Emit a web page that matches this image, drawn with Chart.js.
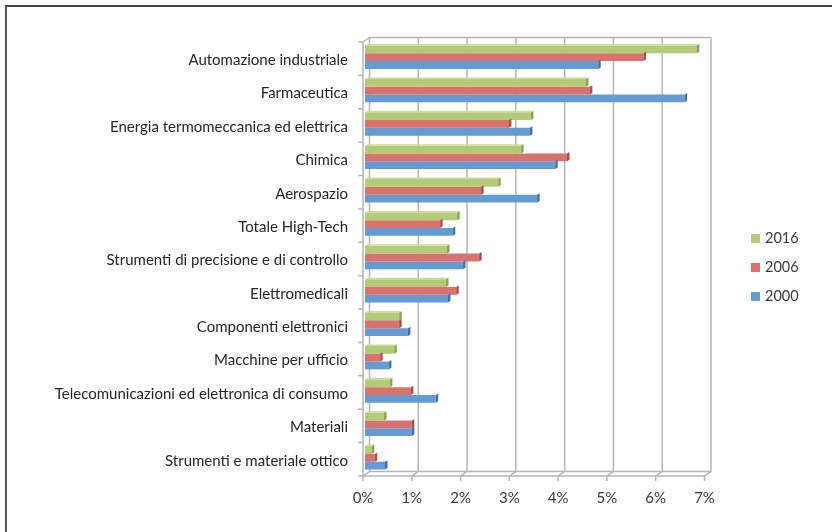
<!DOCTYPE html>
<html>
<head>
<meta charset="utf-8">
<script src="https://cdn.jsdelivr.net/npm/chart.js@4"></script>
<style>
  html, body { margin: 0; background: #fff; overflow: hidden; }
  #wrap { position: relative; width: 832px; height: 532px; }
  /* the screenshot only shows the top and left edge of the chart frame */
  #frame { position: absolute; left: 5px; top: 5px; right: 0; bottom: 0; border-top: 2px solid #444; border-left: 2px solid #555; }
  canvas { position: absolute; left: 0; top: 0; }
</style>
</head>
<body>
<div id="wrap">
  <div id="frame"></div>
  <canvas id="chart" width="832" height="532"></canvas>
</div>
<script>
const categories = [
  'Automazione industriale', 'Farmaceutica', 'Energia termomeccanica ed elettrica',
  'Chimica', 'Aerospazio', 'Totale High-Tech', 'Strumenti di precisione e di controllo',
  'Elettromedicali', 'Componenti elettronici', 'Macchine per ufficio',
  'Telecomunicazioni ed elettronica di consumo', 'Materiali', 'Strumenti e materiale ottico'
];
const values2016 = [6.80, 4.53, 3.40, 3.20, 2.73, 1.89, 1.68, 1.66, 0.70, 0.60, 0.51, 0.39, 0.14];
const values2006 = [5.71, 4.61, 2.95, 4.14, 2.38, 1.54, 2.34, 1.87, 0.70, 0.31, 0.94, 0.96, 0.20];
const values2000 = [4.78, 6.55, 3.38, 3.90, 3.53, 1.80, 2.01, 1.70, 0.88, 0.49, 1.45, 0.96, 0.41];

// 3d look: how far the back wall sits from the front plane
const DEPTH_X = 6.5, DEPTH_Y = -4.5;
// bars stand a bit behind the front plane
const BAR_DX = 2, BAR_DY = -1.5;
const GRID = '#b5b5b5';

const faces = {
  '2016': { front: '#b3cb78', top: '#c9dc9c', side: '#8aa353' },
  '2006': { front: '#d9716c', top: '#e59a96', side: '#a94f4b' },
  '2000': { front: '#659ad2', top: '#93b8e0', side: '#44719f' }
};

// walls, floor and ticks of the fake 3d box, below the bars
const boxPlugin = {
  id: 'box',
  beforeDatasetsDraw(chart) {
    const { ctx, scales: { x }, chartArea: a } = chart;
    ctx.save();
    ctx.strokeStyle = GRID;
    ctx.lineWidth = 1.5;
    ctx.beginPath();
    x.ticks.forEach((t, i) => {
      const px = x.getPixelForTick(i);
      ctx.moveTo(px, a.bottom + 5);
      ctx.lineTo(px, a.bottom);
      ctx.lineTo(px + DEPTH_X, a.bottom + DEPTH_Y);
      ctx.lineTo(px + DEPTH_X, a.top + DEPTH_Y);
    });
    // floor front edge, back edges, left edge
    ctx.moveTo(a.left, a.bottom); ctx.lineTo(a.right, a.bottom);
    ctx.moveTo(a.left + DEPTH_X, a.bottom + DEPTH_Y); ctx.lineTo(a.right + DEPTH_X, a.bottom + DEPTH_Y);
    ctx.moveTo(a.left + DEPTH_X, a.top + DEPTH_Y); ctx.lineTo(a.right + DEPTH_X, a.top + DEPTH_Y);
    ctx.moveTo(a.left, a.bottom); ctx.lineTo(a.left, a.top);
    ctx.lineTo(a.left + DEPTH_X, a.top + DEPTH_Y);
    // category ticks on the front left edge
    for (let i = 0; i <= categories.length; i++) {
      const py = a.top + (a.bottom - a.top) * i / categories.length;
      ctx.moveTo(a.left - 5, py); ctx.lineTo(a.left, py);
    }
    ctx.stroke();
    ctx.restore();

    // bars get shifted back, undone in afterDatasetsDraw
    ctx.save();
    ctx.translate(BAR_DX, BAR_DY);
  },
  afterDatasetsDraw(chart) {
    const { ctx } = chart;
    chart.data.datasets.forEach((ds, di) => {
      const f = faces[ds.label];
      chart.getDatasetMeta(di).data.forEach(bar => {
        const h = bar.height / 2;
        ctx.fillStyle = f.side;
        ctx.beginPath();
        ctx.moveTo(bar.x, bar.y - h);
        ctx.lineTo(bar.x + 2.5, bar.y - h - 1.5);
        ctx.lineTo(bar.x + 2.5, bar.y + h - 1.5);
        ctx.lineTo(bar.x, bar.y + h);
        ctx.closePath();
        ctx.fill();
        if (di === 0) {
          ctx.fillStyle = f.top;
          ctx.beginPath();
          ctx.moveTo(bar.base, bar.y - h);
          ctx.lineTo(bar.base + 2.5, bar.y - h - 1.5);
          ctx.lineTo(bar.x + 2.5, bar.y - h - 1.5);
          ctx.lineTo(bar.x, bar.y - h);
          ctx.closePath();
          ctx.fill();
        }
      });
    });
    ctx.restore();
  }
};

// legend on the right, top entry first like the series order
const legendPlugin = {
  id: 'sideLegend',
  afterDraw(chart) {
    const { ctx } = chart;
    ctx.save();
    ctx.font = '14.5px Lato';
    ctx.textBaseline = 'middle';
    chart.data.datasets.forEach((ds, i) => {
      const cy = 238.5 + i * 29;
      ctx.fillStyle = ds.backgroundColor;
      ctx.fillRect(751, cy - 4.5, 9, 9);
      ctx.fillStyle = '#3a3a3a';
      ctx.fillText(ds.label, 765, cy);
    });
    ctx.restore();
  }
};

new Chart(document.getElementById('chart'), {
  type: 'bar',
  data: {
    labels: categories,
    datasets: [
      { label: '2016', data: values2016, backgroundColor: faces['2016'].front },
      { label: '2006', data: values2006, backgroundColor: faces['2006'].front },
      { label: '2000', data: values2000, backgroundColor: faces['2000'].front }
    ]
  },
  options: {
    indexAxis: 'y',
    responsive: false,
    animation: false,
    layout: { padding: { left: 0, right: 127.5, top: 42, bottom: 0 } },
    datasets: { bar: { categoryPercentage: 0.7, barPercentage: 1, clip: false } },
    plugins: { legend: { display: false }, tooltip: { enabled: false } },
    scales: {
      x: {
        min: 0, max: 7,
        grid: { display: false },
        border: { display: false },
        afterFit(s) { s.height = 56; },
        ticks: {
          stepSize: 1,
          padding: 5,
          maxRotation: 0,
          color: '#3a3a3a',
          font: { family: 'Lato', size: 15 },
          callback: v => v + '%'
        }
      },
      y: {
        grid: { display: false },
        border: { display: false },
        afterFit(s) { s.width = 363; },
        ticks: {
          padding: 7,
          labelOffset: 1.5,
          autoSkip: false,
          color: '#262626',
          font: { family: 'Lato', size: 15 }
        }
      }
    }
  },
  plugins: [boxPlugin, legendPlugin]
});
</script>
</body>
</html>
